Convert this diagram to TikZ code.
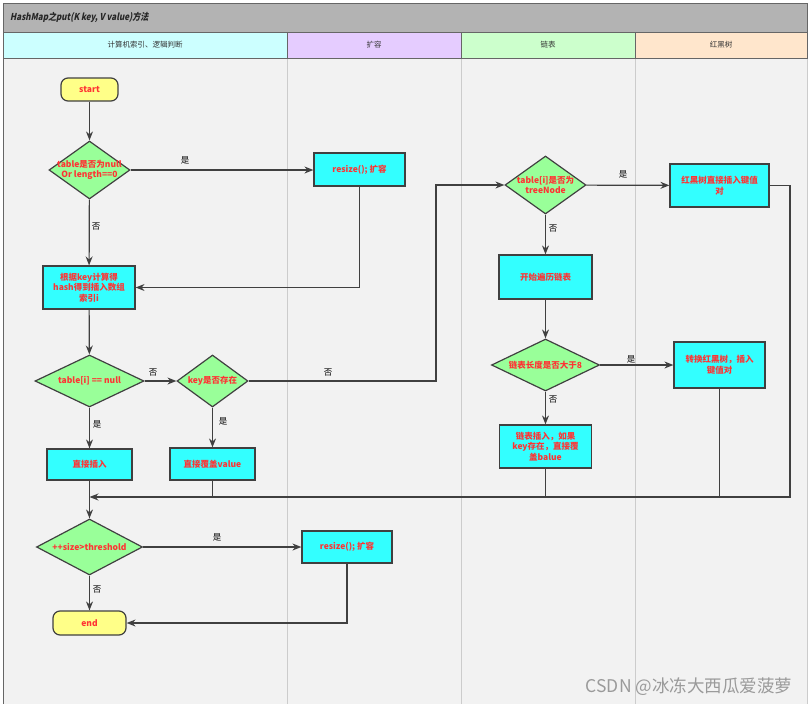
\documentclass[tikz,border=0pt]{standalone}
\usepackage{fontspec}
\setmainfont{Noto Sans CJK SC}
\newfontfamily\titlefont[FakeSlant=0.2,FakeStretch=0.85]{Noto Sans CJK SC}
\usetikzlibrary{shapes.geometric,arrows.meta}
\definecolor{bg}{HTML}{F2F2F2}
\definecolor{titlebg}{HTML}{B3B3B3}
\definecolor{laneA}{HTML}{CCFFFF}
\definecolor{laneB}{HTML}{E5CCFF}
\definecolor{laneC}{HTML}{CCFFCC}
\definecolor{laneD}{HTML}{FFE6CC}
\definecolor{dfill}{HTML}{99FF99}
\definecolor{bfill}{HTML}{33FFFF}
\definecolor{tfill}{HTML}{FFFF88}
\definecolor{txtred}{HTML}{FF3333}
\definecolor{edgec}{HTML}{404040}
\definecolor{sepc}{HTML}{CCCCCC}
\definecolor{wmc}{HTML}{9A9A9A}
\tikzset{
  base/.style={draw=edgec, line width=1.2pt, font=\bfseries\fontsize{8.5}{10.5}\selectfont, text=txtred, align=center, inner sep=1pt},
  boxn/.style={base, rectangle, fill=bfill},
  term/.style={base, rounded corners=7pt, fill=tfill},
  dec/.style={base, diamond, fill=dfill, inner sep=0pt},
  dtxt/.style={font=\bfseries\fontsize{8.5}{10.5}\selectfont, text=txtred, align=center},
  arr/.style={draw=edgec, line width=1.2pt, -{Stealth[length=9pt,width=7pt,inset=3pt]}},
  ln/.style={draw=edgec, line width=1.2pt},
  lab/.style={font=\fontsize{8.5}{10}\selectfont, text=black, inner sep=0pt},
  hdr/.style={draw=edgec!80, line width=0.8pt},
  htxt/.style={font=\fontsize{7.5}{9}\selectfont, text=black!80},
}
\begin{document}
\begin{tikzpicture}[x=1pt,y=-1pt]
\useasboundingbox (0,0) rectangle (809,704);
% lanes
\fill[bg] (3,58) rectangle (807,704);
\foreach \xx in {287,461,635} \draw[sepc, line width=0.8pt] (\xx,58) -- (\xx,704);
\draw[edgec!80, line width=0.8pt] (3,3) -- (3,704);
\draw[sepc, line width=0.8pt] (807,58) -- (807,704);
\draw[edgec!80, line width=0.8pt, fill=titlebg] (3,3) rectangle (807,32);
\node[anchor=west, font=\titlefont\bfseries\fontsize{9.5}{11}\selectfont, text=black!85, inner sep=0pt] (title) at (10,17.5) {HashMap之put(K key, V value)方法};
\draw[hdr, fill=laneA] (3,32) rectangle (287,58);
\draw[hdr, fill=laneB] (287,32) rectangle (461,58);
\draw[hdr, fill=laneC] (461,32) rectangle (635,58);
\draw[hdr, fill=laneD] (635,32) rectangle (807,58);
\node[htxt] (h1) at (145,45) {计算机索引、逻辑判断};
\node[htxt] (h2) at (374,45) {扩容};
\node[htxt] (h3) at (548,45) {链表};
\node[htxt] (h4) at (721,45) {红黑树};

% nodes
\node[term, minimum width=57pt, minimum height=23pt] (start) at (89.5,89.5) {start};
\node[dec, minimum width=81pt, minimum height=58pt, label={[dtxt]center:table是否为null\\Or length==0}] (d1) at (89.5,170) {};
\node[boxn, minimum width=91pt, minimum height=33pt] (rs1) at (359.5,169.5) {resize(); 扩容};
\node[boxn, minimum width=92pt, minimum height=43pt] (idx) at (89,287.5) {根据key计算得\\hash得到插入数组\\索引i};
\node[dec, minimum width=109pt, minimum height=52pt, label={[dtxt]center:table[i] == null}] (d2) at (89.5,381) {};
\node[dec, minimum width=71pt, minimum height=52pt, label={[dtxt]center:key是否存在}] (d3) at (212.5,381) {};
\node[boxn, minimum width=85pt, minimum height=31pt] (ins) at (89.5,464.5) {直接插入};
\node[boxn, minimum width=85pt, minimum height=32pt] (cov) at (212.5,464) {直接覆盖value};
\node[dec, minimum width=81pt, minimum height=58pt, label={[dtxt]center:table[i]是否为\\treeNode}] (d4) at (545.5,185) {};
\node[boxn, minimum width=99pt, minimum height=43pt] (rb1) at (719.5,185.5) {红黑树直接插入键值\\对};
\node[boxn, minimum width=93pt, minimum height=44pt] (trav) at (545.5,277) {开始遍历链表};
\node[dec, minimum width=108pt, minimum height=52pt, label={[dtxt]center:链表长度是否大于8}] (d5) at (545.5,365) {};
\node[boxn, minimum width=91pt, minimum height=46pt] (rb2) at (719.5,365) {转换红黑树，插入\\键值对};
\node[boxn, minimum width=92pt, minimum height=43pt] (lst) at (545.5,446.5) {链表插入，如果\\key存在，直接覆\\盖balue};
\node[dec, minimum width=106pt, minimum height=56pt, label={[dtxt]center:++size>threshold}] (d6) at (89.5,547) {};
\node[boxn, minimum width=90pt, minimum height=32pt] (rs2) at (347,547) {resize(); 扩容};
\node[term, minimum width=73pt, minimum height=24pt] (end) at (89.5,623) {end};

\coordinate (m) at (89.5,497);
\coordinate (rr) at (790,185.5);
\coordinate (jog) at (436,381);

% edges
\draw[arr] (start) -- (d1);
\draw[arr] (d1.east) -- (d1.east -| rs1.west);
\draw[arr] (d1) -- (idx);
\draw[arr] (rs1.south) |- (idx.east);
\draw[arr] (idx) -- (d2);
\draw[arr] (d2) -- (d3);
\draw[arr] (d2) -- (ins);
\draw[arr] (d3) -- (cov);
\draw[arr] (d3.east) -- (jog) |- (d4.west);
\draw[arr] (d4) -- (rb1);
\draw[arr] (d4) -- (trav);
\draw[arr] (trav) -- (d5);
\draw[arr] (d5) -- (rb2);
\draw[arr] (d5) -- (lst);
\draw[ln] (ins.south) -- (m);
\draw[ln] (cov.south) -- (cov.south |- m);
\draw[ln] (lst.south) -- (lst.south |- m);
\draw[ln] (rb2.south) -- (rb2.south |- m);
\draw[arr] (rb1.east) -- (rr) |- (m);
\draw[arr] (m) -- (d6.north);
\draw[arr] (d6) -- (rs2);
\draw[arr] (d6) -- (end);
\draw[arr] (rs2.south) |- (end.east);

% edge labels
\node[lab] (l1) at (185,160) {是};
\node[lab] (l2) at (96,227) {否};
\node[lab] (l3) at (153,373) {否};
\node[lab] (l4) at (97,424) {是};
\node[lab] (l5) at (223,421) {是};
\node[lab] (l6) at (328,373) {否};
\node[lab] (l7) at (623,174) {是};
\node[lab] (l8) at (553,229) {否};
\node[lab] (l9) at (631,359) {是};
\node[lab] (l10) at (553,400) {否};
\node[lab] (l11) at (217,537) {是};
\node[lab] (l12) at (97,590) {否};

\node[font=\fontsize{17.5}{20}\selectfont, text=wmc, inner sep=0pt] (wm) at (689,687) {CSDN @冰冻大西瓜爱菠萝};
\end{tikzpicture}
\end{document}
